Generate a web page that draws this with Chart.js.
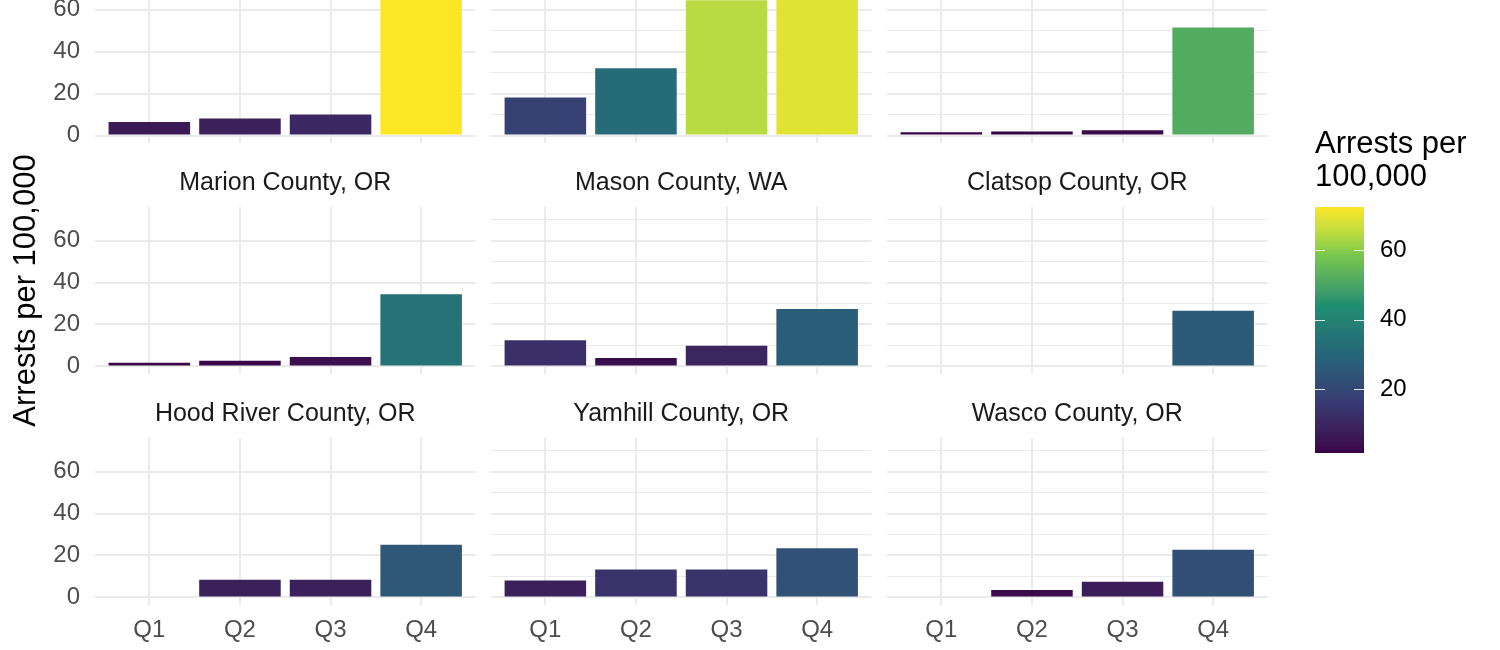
<!DOCTYPE html>
<html>
<head>
<meta charset="utf-8">
<script src="https://cdn.jsdelivr.net/npm/chart.js@4.4.1/dist/chart.umd.min.js"></script>
<style>
  html, body { margin: 0; padding: 0; background: #fff; overflow: hidden; }
  #plot { position: relative; width: 1500px; height: 650px; overflow: hidden; }
  #plot canvas { position: absolute; left: 0; top: -60px; }
</style>
</head>
<body>
<div id="plot"></div>
<script>
// quarters on the x axis
const quarters = ['Q1', 'Q2', 'Q3', 'Q4'];

// arrests per 100,000 by county (null = no bar)
// the first three panels have their strip titles cut off above the picture
const firstCounty  = [6.5, 8.2, 10.1, 72.4];
const secondCounty = [18.2, 32.1, 64.5, 69.0];
const thirdCounty  = [1.6, 1.9, 2.6, 51.5];
const marion       = [1.8, 2.7, 4.5, 34.4];
const mason        = [12.5, 4.0, 9.8, 27.4];
const clatsop      = [null, null, null, 26.5];
const hoodRiver    = [null, 8.4, 8.4, 25.1];
const yamhill      = [8.1, 13.3, 13.3, 23.5];
const wasco        = [null, 3.5, 7.5, 22.7];

const countyNames = [null, null, null,
  'Marion County, OR', 'Mason County, WA', 'Clatsop County, OR',
  'Hood River County, OR', 'Yamhill County, OR', 'Wasco County, OR'];
const countyValues = [firstCounty, secondCounty, thirdCounty,
  marion, mason, clatsop, hoodRiver, yamhill, wasco];

const legendTitle = ['Arrests per', '100,000'];
const legendTicks = [20, 40, 60];
const yTicks = [0, 10, 20, 30, 40, 50, 60, 70];

// viridis(6), interpolated in Lab like ggplot's gradient_n_pal
const viridisStops = ['#440154', '#414487', '#2a788e', '#22a884', '#7ad151', '#fde725'];

function hexToRgb(h) {
  return [1, 3, 5].map(i => parseInt(h.substr(i, 2), 16));
}

function rgbToLab(rgb) {
  const [r, g, b] = rgb.map(c => {
    c /= 255;
    return c <= 0.04045 ? c / 12.92 : Math.pow((c + 0.055) / 1.055, 2.4);
  });
  const X = (0.4124 * r + 0.3576 * g + 0.1805 * b) / 0.95047;
  const Y = 0.2126 * r + 0.7152 * g + 0.0722 * b;
  const Z = (0.0193 * r + 0.1192 * g + 0.9505 * b) / 1.08883;
  const f = t => (t > 0.008856 ? Math.cbrt(t) : 7.787 * t + 16 / 116);
  return [116 * f(Y) - 16, 500 * (f(X) - f(Y)), 200 * (f(Y) - f(Z))];
}

function labToRgb([L, A, B]) {
  const fy = (L + 16) / 116, fx = fy + A / 500, fz = fy - B / 200;
  const inv = t => (t * t * t > 0.008856 ? t * t * t : (t - 16 / 116) / 7.787);
  const X = 0.95047 * inv(fx), Y = inv(fy), Z = 1.08883 * inv(fz);
  const lin = [
    3.2406 * X - 1.5372 * Y - 0.4986 * Z,
    -0.9689 * X + 1.8758 * Y + 0.0415 * Z,
    0.0557 * X - 0.2040 * Y + 1.0570 * Z
  ];
  return lin.map(c => {
    c = c <= 0.0031308 ? 12.92 * c : 1.055 * Math.pow(c, 1 / 2.4) - 0.055;
    return Math.max(0, Math.min(1, c)) * 255;
  });
}

const labStops = viridisStops.map(h => rgbToLab(hexToRgb(h)));

// the picture's darker tones come out a little deeper than plain viridis
function viridis(t) {
  t = Math.max(0, Math.min(1, t));
  const n = labStops.length - 1;
  const i = Math.min(n - 1, Math.floor(t * n));
  const f = t * n - i;
  const a = labStops[i], b = labStops[i + 1];
  const k = 0.85 + 0.15 * Math.max(0, Math.min(1, (t - 0.6) / 0.3));
  const c = labToRgb(a.map((v, j) => v + (b[j] - v) * f)).map(v => Math.round(v * k));
  return `rgb(${c[0]},${c[1]},${c[2]})`;
}

const allValues = countyValues.flat().filter(v => v != null);
const cmin = Math.min(...allValues);
const cmax = Math.max(...allValues);

Chart.defaults.font.family = "'Liberation Sans', Arial, Helvetica, sans-serif";

const W = 1500, H = 710, OFF = 60;
const colLeft = [95, 491, 887];
const panelW = 380.5;
const rowTop = [-23.8, 207, 438];
const panelH = 167;
const stripFont = 25, stripGap = 9;
const stripH = stripFont * 1.2 + stripGap;
const plot = document.getElementById('plot');

function makeCanvas() {
  const c = document.createElement('canvas');
  c.width = W; c.height = H;
  c.style.width = W + 'px'; c.style.height = H + 'px';
  plot.appendChild(c);
  return c;
}

countyValues.forEach((values, p) => {
  const row = Math.floor(p / 3), col = p % 3;
  const title = countyNames[p];
  const isLeft = col === 0, isBottom = row === 2;
  const top = rowTop[row] + OFF;
  const yAxisW = isLeft ? 95 : 0;
  const xAxisH = isBottom ? 40 : 0;

  new Chart(makeCanvas(), {
    type: 'bar',
    data: {
      datasets: [{
        data: values.map((v, i) => ({ x: i + 1, y: v })),
        backgroundColor: values.map(v => v == null ? 'rgba(0,0,0,0)' : viridis((v - cmin) / (cmax - cmin))),
        barPercentage: 0.9,
        categoryPercentage: 1
      }]
    },
    options: {
      responsive: false,
      animation: false,
      events: [],
      layout: {
        padding: {
          left: colLeft[col] - yAxisW,
          right: W - colLeft[col] - panelW,
          top: top - (title ? stripH : 0),
          bottom: H - top - panelH - xAxisH
        }
      },
      plugins: {
        legend: { display: false },
        tooltip: { enabled: false },
        title: {
          display: !!title,
          text: title || '',
          fullSize: false,
          color: '#1a1a1a',
          font: { size: stripFont, weight: 'normal', lineHeight: 1.2 },
          padding: { top: 0, bottom: stripGap }
        }
      },
      scales: {
        x: {
          type: 'linear',
          min: 0.4,
          max: 4.6,
          offset: false,
          afterBuildTicks: s => { s.ticks = quarters.map((q, i) => ({ value: i + 1 })); },
          afterFit: s => { s.height = xAxisH; },
          ticks: {
            display: isBottom,
            callback: v => quarters[v - 1],
            color: '#4d4d4d',
            font: { size: 24, lineHeight: 1.2 },
            padding: 11,
            maxRotation: 0,
            autoSkip: false
          },
          grid: { color: '#ebebeb', lineWidth: 2, drawTicks: false, offset: false },
          border: { display: false }
        },
        y: {
          min: -0.05 * cmax,
          max: 1.05 * cmax,
          afterBuildTicks: s => { s.ticks = yTicks.map(v => ({ value: v })); },
          afterFit: s => { s.width = yAxisW; },
          ticks: {
            display: isLeft,
            callback: v => (v % 20 === 0 ? String(v) : ''),
            color: '#4d4d4d',
            font: { size: 24 },
            padding: 15
          },
          grid: {
            color: '#ebebeb',
            lineWidth: c => (c.tick && c.tick.value % 20 === 0 ? 2 : 1),
            drawTicks: false
          },
          border: { display: false },
          title: {
            display: p === 3,
            text: 'Arrests per 100,000',
            color: '#000',
            font: { size: 31, lineHeight: 1.2 },
            padding: { top: 7.4, bottom: 0 }
          }
        }
      }
    }
  });
});

// colour bar legend
const colorbar = {
  id: 'colorbar',
  beforeDatasetsDraw(chart) {
    const { ctx, chartArea: a, scales: { y } } = chart;
    const g = ctx.createLinearGradient(0, a.bottom, 0, a.top);
    for (let i = 0; i <= 60; i++) g.addColorStop(i / 60, viridis(i / 60));
    ctx.save();
    ctx.fillStyle = g;
    ctx.fillRect(a.left, a.top, a.right - a.left, a.bottom - a.top);
    ctx.strokeStyle = 'rgba(255,255,255,0.85)';
    ctx.lineWidth = 1;
    legendTicks.forEach(v => {
      const py = Math.round(y.getPixelForValue(v)) + 0.5;
      ctx.beginPath();
      ctx.moveTo(a.left, py); ctx.lineTo(a.left + 10, py);
      ctx.moveTo(a.right - 10, py); ctx.lineTo(a.right, py);
      ctx.stroke();
    });
    ctx.restore();
  }
};

new Chart(makeCanvas(), {
  type: 'scatter',
  data: { datasets: [] },
  plugins: [colorbar],
  options: {
    responsive: false,
    animation: false,
    events: [],
    layout: { padding: { left: 1315, right: 0, top: 127.5 + OFF, bottom: H - (453 + OFF) } },
    plugins: {
      legend: { display: false },
      tooltip: { enabled: false },
      title: {
        display: true,
        text: legendTitle,
        align: 'start',
        color: '#000',
        font: { size: 31, weight: 'normal', lineHeight: 33 / 31 },
        padding: { top: 0, bottom: 13.5 }
      }
    },
    scales: {
      x: { display: false },
      y: {
        position: 'right',
        min: cmin,
        max: cmax,
        afterBuildTicks: s => { s.ticks = legendTicks.map(v => ({ value: v })); },
        afterFit: s => { s.width = W - 1364; },
        ticks: { color: '#000', font: { size: 24 }, padding: 16 },
        grid: { display: false, drawTicks: false },
        border: { display: false }
      }
    }
  }
});
</script>
</body>
</html>
